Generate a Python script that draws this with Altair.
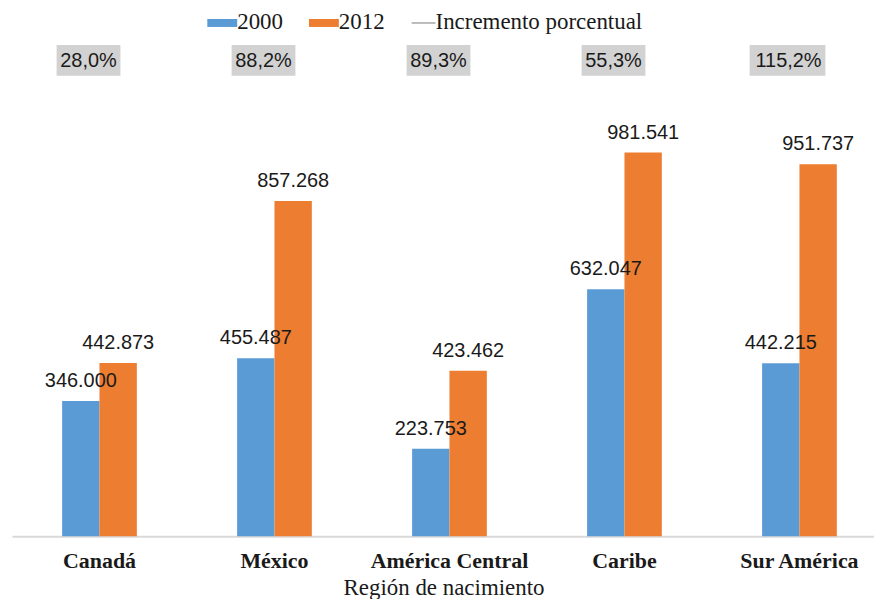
import altair as alt
import pandas as pd

categories = ["Canadá", "México", "América Central", "Caribe", "Sur América"]
series = ["2000", "2012"]
values_2000 = [346000, 455487, 223753, 632047, 442215]
values_2012 = [442873, 857268, 423462, 981541, 951737]
pct_labels = ["28,0%", "88,2%", "89,3%", "55,3%", "115,2%"]
legend_line_label = "Incremento porcentual"

SERIF = "Liberation Serif"
SANS = "Liberation Sans"
BLUE = "#5B9BD5"
ORANGE = "#ED7D31"
INK = "#1a1a1a"
BOX = "#d2d2d2"

rows = []
for c, a, b in zip(categories, values_2000, values_2012):
    rows.append({"region": c, "serie": "2000", "valor": a, "etiqueta": f"{a:,}".replace(",", ".")})
    rows.append({"region": c, "serie": "2012", "valor": b, "etiqueta": f"{b:,}".replace(",", ".")})
df = pd.DataFrame(rows)
pct_df = pd.DataFrame({"region": categories, "pct": pct_labels})

W, H = 866, 526
P_IN = 0.573

x_scale = alt.Scale(domain=categories, range=[1, 879], paddingInner=P_IN, paddingOuter=P_IN / 2)
x_enc = alt.X(
    "region:N",
    sort=categories,
    title="Región de nacimiento",
    scale=x_scale,
    axis=alt.Axis(
        labelAngle=0,
        labelFont=SERIF,
        labelFontSize=22,
        labelFontWeight="bold",
        labelColor=INK,
        labelPadding=14,
        titleFont=SERIF,
        titleFontSize=23,
        titleFontWeight="normal",
        titleColor=INK,
        titlePadding=6,
        titleX=434,
        titleAlign="center",
        ticks=False,
        domainColor="#d9d9d9",
        domainWidth=2,
        grid=False,
    ),
)
y_enc = alt.Y("valor:Q", scale=alt.Scale(domain=[0, 1341000], nice=False), axis=None)
color_enc = alt.Color(
    "serie:N", scale=alt.Scale(domain=series, range=[BLUE, ORANGE]), legend=None
)
xoff = alt.XOffset("serie:N", sort=series, scale=alt.Scale(paddingInner=0, paddingOuter=0))

base = alt.Chart(df)
bars = base.mark_bar().encode(x=x_enc, xOffset=xoff, y=y_enc, color=color_enc)
labels = base.mark_text(
    baseline="bottom", dy=-10, font=SANS, fontSize=20, color=INK
).encode(x=x_enc, xOffset=xoff, y=y_enc, text="etiqueta:N")

pbase = alt.Chart(pct_df)
px = alt.X("region:N", sort=categories, scale=x_scale)
pbox_short = pbase.transform_filter("length(datum.pct) <= 5").mark_bar(
    width=64, color=BOX, xOffset=-11
).encode(x=px, y=alt.value(33), y2=alt.value(64))
pbox_long = pbase.transform_filter("length(datum.pct) > 5").mark_bar(
    width=76, color=BOX, xOffset=-12
).encode(x=px, y=alt.value(33), y2=alt.value(64))
ptext = pbase.mark_text(font=SANS, fontSize=20, color=INK, baseline="middle", dx=-11).encode(
    x=px, y=alt.value(49), text="pct:N"
)

leg_df = pd.DataFrame({"lab": [series[0]]})
leg_df2 = pd.DataFrame({"lab": [series[1]]})
leg_df3 = pd.DataFrame({"lab": [legend_line_label]})
ltxt = dict(align="left", baseline="middle", font=SERIF, fontSize=23, color=INK)

leg1r = alt.Chart(leg_df).mark_rect(color=BLUE).encode(
    x=alt.value(197), x2=alt.value(227), y=alt.value(7), y2=alt.value(15)
)
leg1t = alt.Chart(leg_df).mark_text(**ltxt).encode(x=alt.value(227), y=alt.value(10), text="lab:N")
leg2r = alt.Chart(leg_df2).mark_rect(color=ORANGE).encode(
    x=alt.value(299), x2=alt.value(329), y=alt.value(7), y2=alt.value(15)
)
leg2t = alt.Chart(leg_df2).mark_text(**ltxt).encode(x=alt.value(329), y=alt.value(10), text="lab:N")
leg3r = alt.Chart(leg_df3).mark_rule(color="#a6a6a6", strokeWidth=1.5).encode(
    x=alt.value(402), x2=alt.value(426), y=alt.value(11)
)
leg3t = alt.Chart(leg_df3).mark_text(**ltxt).encode(x=alt.value(426), y=alt.value(10), text="lab:N")

chart = (
    alt.layer(bars, labels, pbox_short, pbox_long, ptext, leg1r, leg1t, leg2r, leg2t, leg3r, leg3t)
    .properties(
        width=W,
        height=H,
        autosize=alt.AutoSizeParams(type="none"),
        padding={"left": 3, "top": 3, "right": 0, "bottom": 62},
    )
    .configure_view(stroke=None)
)

chart.save("out.html", embed_options={"renderer": "svg", "actions": False})
